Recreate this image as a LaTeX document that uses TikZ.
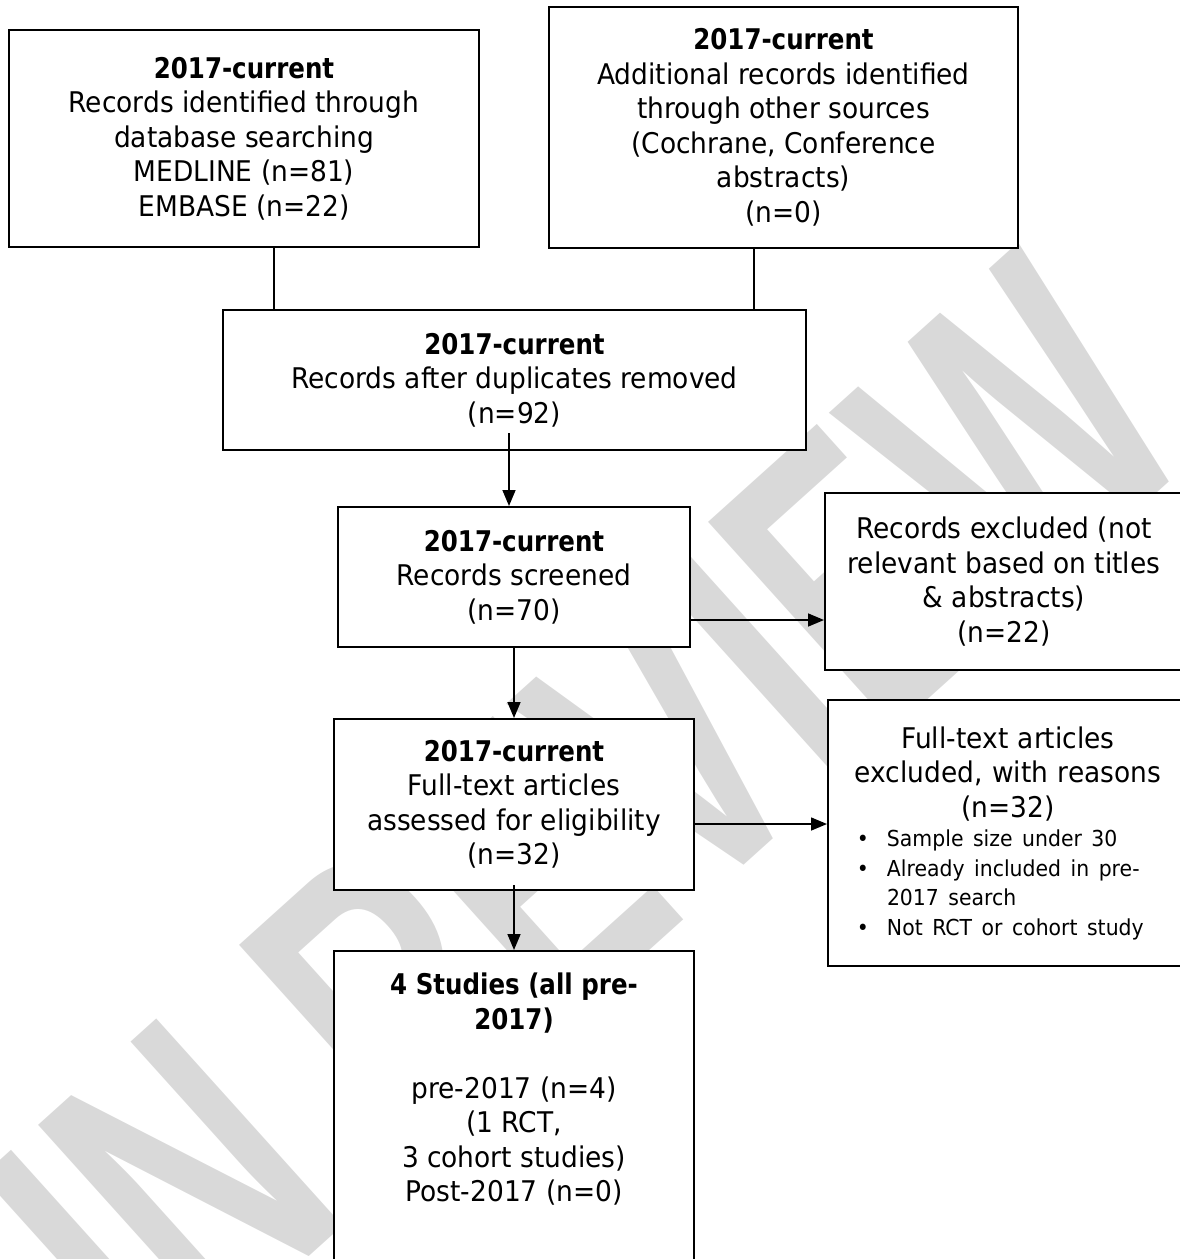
\documentclass[tikz,border=0pt]{standalone}
\usepackage{fontspec}
\setmainfont{DejaVu Sans}[UprightFeatures={FakeStretch=0.928}, BoldFeatures={FakeStretch=0.86}]
\newfontfamily\markfont{Liberation Sans}[FakeStretch=0.668]
\usetikzlibrary{arrows.meta}

\tikzset{
  box/.style={draw, line width=2pt, fill=white, inner sep=0pt, align=center,
    font=\fontsize{28.5}{34.5}\selectfont},
  conn/.style={line width=1.6pt},
  arr/.style={line width=1.6pt, -{Triangle[length=16pt,width=13pt]}},
}
\newcommand{\listline}{\llap{\textbullet\hspace{18pt}}}

\begin{document}
\begin{tikzpicture}[x=1pt,y=-1pt]
  \useasboundingbox (0,0) rectangle (1180,1259);
  \clip (0,0) rectangle (1180,1259);

  % watermark behind the boxes
  \node[rotate=42, inner sep=0pt, text=black!15,
    font=\markfont\bfseries\fontsize{405}{405}\selectfont] (mark) at (587.5,819) {IN REVIEW};

  % identification
  \node[box, minimum width=470pt, minimum height=217pt] (ident) at (244,138.5)
    {\textbf{2017-current}\\Records identified through\\database searching\\MEDLINE (n=81)\\EMBASE (n=22)};
  \node[box, minimum width=469pt, minimum height=241pt] (other) at (783.5,127.5)
    {\textbf{2017-current}\\Additional records identified\\through other sources\\(Cochrane, Conference\\abstracts)\\(n=0)};
  \node[box, minimum width=583pt, minimum height=140pt] (dup) at (514.5,380)
    {\textbf{2017-current}\\Records after duplicates removed\\(n=92)};

  % screening
  \node[box, minimum width=352pt, minimum height=140pt] (scr) at (514,577)
    {\textbf{2017-current}\\Records screened\\(n=70)};
  \node[box, minimum width=358pt, minimum height=177pt] (excl) at (1004,581.5)
    {Records excluded (not\\relevant based on titles\\\& abstracts)\\(n=22)};

  % eligibility
  \node[box, minimum width=360pt, minimum height=171pt] (full) at (514,804.5)
    {\textbf{2017-current}\\Full-text articles\\assessed for eligibility\\(n=32)};
  \node[box, minimum width=360pt, minimum height=266pt, text width=360pt] (fexcl) at (1008,833)
    {Full-text articles\\excluded, with reasons\\(n=32)\par
     \fontsize{22}{29.5}\selectfont\raggedright\leftskip=59pt
     \noindent\listline Sample size under 30\par
     \noindent\listline Already included in pre-\\2017 search\par
     \noindent\listline Not RCT or cohort study\par};

  % included
  \node[box, anchor=north, minimum width=360pt, minimum height=315pt, text depth=42pt] (incl) at (514,950)
    {\textbf{4 Studies (all pre-}\\\textbf{2017)}\\[34.5pt]pre-2017 (n=4)\\(1 RCT,\\3 cohort studies)\\Post-2017 (n=0)};

  % connectors
  \draw[conn] ([xshift=30pt]ident.south) -- ([xshift=30pt]ident.south |- dup.north);
  \draw[conn] ([xshift=-29.5pt]other.south) -- ([xshift=-29.5pt]other.south |- dup.north);
  \draw[arr] ([xshift=-5.5pt,yshift=18pt]dup.south) -- ([xshift=-5.5pt]dup.south |- scr.north);
  \draw[arr] ([yshift=-43pt]scr.east) -- ([yshift=-43pt]scr.east -| excl.west);
  \draw[arr] (scr) -- (full);
  \draw[arr] ([yshift=-19.5pt]full.east) -- ([yshift=-19.5pt]full.east -| fexcl.west);
  \draw[arr] ([yshift=6pt]full.south) -- (incl.north);
\end{tikzpicture}
\end{document}
